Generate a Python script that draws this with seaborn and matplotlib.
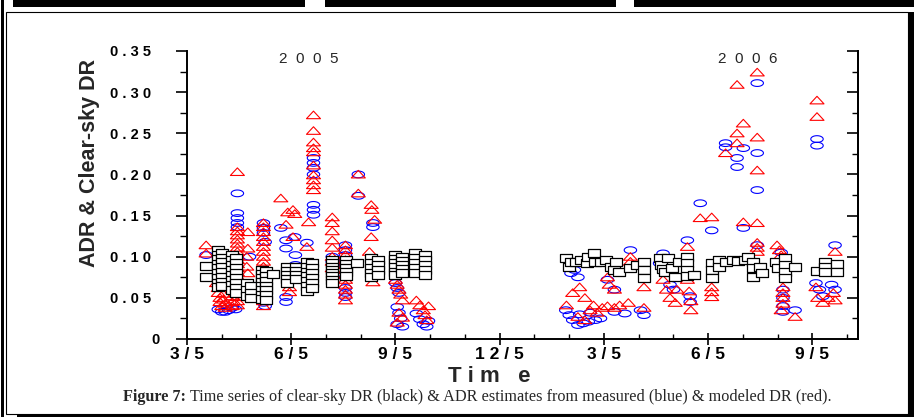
import numpy as np
import pandas as pd
import matplotlib
matplotlib.use("Agg")
import matplotlib.pyplot as plt
import seaborn as sns
from matplotlib.path import Path
from matplotlib.patches import Rectangle
from matplotlib.ticker import FixedLocator, FixedFormatter, MultipleLocator

# ---------------- data (x = months since 1 March 2005, y = DR) ----------------
black_points = [
    (0.55, 0.089), (0.55, 0.075),
    (0.90, 0.108), (0.90, 0.102), (0.90, 0.097), (0.90, 0.091), (0.90, 0.086), (0.90, 0.080), (0.90, 0.074), (0.90, 0.068), (0.90, 0.063),
    (1.02, 0.105), (1.02, 0.099), (1.02, 0.093), (1.02, 0.087), (1.02, 0.081), (1.02, 0.075), (1.02, 0.069), (1.02, 0.064),
    (1.30, 0.102), (1.30, 0.096), (1.30, 0.090), (1.30, 0.084), (1.30, 0.078), (1.30, 0.072), (1.30, 0.066), (1.30, 0.060),
    (1.42, 0.098), (1.42, 0.092), (1.42, 0.086), (1.42, 0.080), (1.42, 0.074), (1.42, 0.068), (1.42, 0.062), (1.42, 0.056),
    (1.72, 0.068), (1.72, 0.060), (1.72, 0.052), (1.85, 0.064), (1.85, 0.056), (1.85, 0.050),
    (2.15, 0.084), (2.15, 0.079), (2.15, 0.074), (2.15, 0.069), (2.15, 0.064), (2.15, 0.059), (2.15, 0.054), (2.15, 0.049),
    (2.27, 0.083), (2.27, 0.077), (2.27, 0.071), (2.27, 0.065), (2.27, 0.059), (2.27, 0.053), (2.27, 0.048),
    (2.47, 0.079),
    (2.88, 0.088), (2.88, 0.083), (2.88, 0.078), (2.88, 0.073), (2.88, 0.068),
    (3.15, 0.088), (3.15, 0.083), (3.15, 0.078), (3.15, 0.073),
    (3.45, 0.094), (3.45, 0.088), (3.45, 0.082), (3.45, 0.076), (3.45, 0.070), (3.45, 0.064), (3.45, 0.058),
    (3.60, 0.092), (3.60, 0.086), (3.60, 0.080), (3.60, 0.074), (3.60, 0.068), (3.60, 0.062),
    (4.18, 0.096), (4.18, 0.092), (4.18, 0.088), (4.18, 0.084), (4.18, 0.080), (4.18, 0.076), (4.18, 0.072), (4.18, 0.068),
    (4.58, 0.096), (4.58, 0.091), (4.58, 0.086), (4.58, 0.081), (4.58, 0.076), (4.88, 0.092),
    (5.30, 0.098), (5.30, 0.092), (5.30, 0.086), (5.30, 0.080), (5.30, 0.075),
    (5.50, 0.096), (5.50, 0.090), (5.50, 0.084), (5.50, 0.078),
    (6.00, 0.102), (6.00, 0.097), (6.00, 0.092), (6.00, 0.087), (6.00, 0.082), (6.00, 0.078),
    (6.20, 0.100), (6.20, 0.095), (6.20, 0.090), (6.20, 0.085), (6.20, 0.080),
    (6.55, 0.104), (6.55, 0.098), (6.55, 0.092), (6.55, 0.086), (6.55, 0.080),
    (6.85, 0.102), (6.85, 0.096), (6.85, 0.090), (6.85, 0.084), (6.85, 0.078),
    (10.92, 0.098), (11.00, 0.088), (11.05, 0.094), (11.20, 0.094), (11.35, 0.096), (11.50, 0.092),
    (11.55, 0.100), (11.70, 0.104), (11.75, 0.094), (11.90, 0.094),
    (12.05, 0.096), (12.20, 0.088), (12.28, 0.084), (12.35, 0.094), (12.42, 0.081),
    (12.76, 0.086), (12.95, 0.090), (13.15, 0.094), (13.15, 0.084), (13.15, 0.074),
    (13.60, 0.098), (13.65, 0.090), (13.70, 0.085), (13.75, 0.081), (13.85, 0.098), (13.95, 0.086),
    (14.05, 0.075), (14.15, 0.094),
    (14.40, 0.100), (14.40, 0.092), (14.40, 0.084), (14.40, 0.076), (14.60, 0.078),
    (15.10, 0.092), (15.10, 0.084), (15.10, 0.074), (15.30, 0.096), (15.30, 0.088),
    (15.50, 0.094), (15.70, 0.096), (15.85, 0.095), (16.05, 0.096), (16.15, 0.100),
    (16.30, 0.094), (16.30, 0.086), (16.30, 0.075), (16.50, 0.088), (16.55, 0.080),
    (16.95, 0.094), (17.00, 0.086), (17.20, 0.098), (17.20, 0.090), (17.20, 0.082), (17.20, 0.074), (17.50, 0.087),
    (18.13, 0.083), (18.35, 0.094), (18.35, 0.088), (18.35, 0.081), (18.70, 0.091), (18.70, 0.082),
]

blue_points = [
    (0.55, 0.102),
    (0.90, 0.036), (1.00, 0.033), (1.10, 0.033), (1.20, 0.035), (1.30, 0.038), (1.40, 0.036),
    (1.45, 0.177), (1.45, 0.153), (1.45, 0.147), (1.45, 0.141), (1.45, 0.136),
    (1.80, 0.100),
    (2.20, 0.141), (2.20, 0.135), (2.20, 0.129), (2.25, 0.118), (2.20, 0.044), (2.25, 0.040),
    (2.70, 0.135), (2.85, 0.120), (2.85, 0.110), (2.85, 0.051), (2.85, 0.045),
    (3.10, 0.124), (3.12, 0.102), (3.12, 0.090),
    (3.45, 0.117), (3.64, 0.220), (3.64, 0.214), (3.64, 0.208), (3.64, 0.200),
    (3.64, 0.163), (3.64, 0.157), (3.64, 0.151),
    (4.18, 0.100), (4.18, 0.094),
    (4.56, 0.114), (4.56, 0.108), (4.56, 0.102), (4.56, 0.096), (4.56, 0.090),
    (4.56, 0.075), (4.56, 0.062), (4.56, 0.056), (4.56, 0.051),
    (4.93, 0.200), (4.93, 0.174),
    (5.35, 0.141), (5.35, 0.136),
    (6.00, 0.068), (6.05, 0.062), (6.10, 0.056), (6.05, 0.039), (6.10, 0.032), (6.15, 0.025),
    (6.05, 0.018), (6.20, 0.015),
    (6.60, 0.031), (6.70, 0.024), (6.80, 0.018), (6.90, 0.015), (6.95, 0.022),
    (11.05, 0.080), (11.25, 0.075), (11.15, 0.084),
    (10.90, 0.035), (11.00, 0.029), (11.10, 0.023), (11.25, 0.017), (11.40, 0.019), (11.55, 0.021),
    (11.75, 0.023), (11.90, 0.025), (11.30, 0.030), (11.60, 0.032),
    (12.10, 0.072), (12.30, 0.060), (12.30, 0.033), (12.60, 0.031),
    (12.76, 0.108), (13.05, 0.035), (13.15, 0.029),
    (13.70, 0.104), (13.60, 0.092), (13.90, 0.066), (14.00, 0.060), (14.40, 0.120), (14.48, 0.045), (14.48, 0.052),
    (14.77, 0.165), (15.10, 0.132),
    (15.50, 0.238), (15.50, 0.233), (15.83, 0.220), (15.83, 0.209), (16.01, 0.232), (16.01, 0.135),
    (16.41, 0.311), (16.41, 0.226), (16.41, 0.181), (16.41, 0.114),
    (17.10, 0.105), (17.15, 0.060), (17.15, 0.050), (17.15, 0.040), (17.15, 0.033), (17.50, 0.035),
    (18.13, 0.243), (18.13, 0.235), (18.10, 0.068), (18.20, 0.060), (18.30, 0.052),
    (18.55, 0.066), (18.65, 0.060), (18.65, 0.114),
]

red_points = [
    (0.55, 0.114), (0.55, 0.104),
    (0.85, 0.075), (0.85, 0.068), (0.90, 0.062), (0.90, 0.056), (0.95, 0.050), (0.95, 0.045), (1.00, 0.040),
    (1.00, 0.065), (1.05, 0.055), (1.05, 0.048), (1.10, 0.043), (1.10, 0.038),
    (1.30, 0.060), (1.30, 0.052), (1.30, 0.045), (1.30, 0.040),
    (1.45, 0.203), (1.45, 0.136), (1.45, 0.131), (1.45, 0.126), (1.45, 0.121), (1.45, 0.116), (1.45, 0.111),
    (1.45, 0.106), (1.45, 0.101), (1.45, 0.096), (1.45, 0.091), (1.45, 0.086), (1.45, 0.081), (1.45, 0.076),
    (1.45, 0.071), (1.45, 0.066), (1.45, 0.061), (1.45, 0.056), (1.45, 0.051), (1.45, 0.046), (1.45, 0.041),
    (1.75, 0.130), (1.75, 0.110), (1.72, 0.100), (1.72, 0.088), (1.75, 0.080),
    (2.20, 0.141), (2.20, 0.136), (2.20, 0.130), (2.20, 0.124), (2.20, 0.118), (2.20, 0.112), (2.20, 0.106),
    (2.20, 0.100), (2.20, 0.094), (2.20, 0.088), (2.20, 0.082), (2.20, 0.076), (2.20, 0.070), (2.20, 0.064),
    (2.20, 0.058), (2.20, 0.052), (2.20, 0.046), (2.20, 0.040),
    (2.70, 0.171), (2.85, 0.139), (2.95, 0.063), (2.95, 0.057),
    (2.90, 0.154), (3.05, 0.157), (3.10, 0.152), (3.05, 0.124),
    (3.45, 0.112), (3.50, 0.142),
    (3.64, 0.272), (3.64, 0.253), (3.64, 0.239), (3.64, 0.232), (3.64, 0.227), (3.64, 0.211), (3.64, 0.199),
    (3.64, 0.193), (3.64, 0.187), (3.64, 0.181),
    (4.18, 0.148), (4.18, 0.141), (4.18, 0.131), (4.18, 0.120), (4.18, 0.111), (4.18, 0.100), (4.18, 0.094), (4.18, 0.086),
    (4.56, 0.114), (4.56, 0.108), (4.56, 0.102), (4.56, 0.096), (4.56, 0.090), (4.56, 0.084), (4.56, 0.078),
    (4.56, 0.072), (4.56, 0.066), (4.56, 0.060), (4.56, 0.054), (4.56, 0.047),
    (4.93, 0.200), (4.93, 0.177),
    (5.30, 0.163), (5.32, 0.157), (5.40, 0.145), (5.30, 0.124), (5.25, 0.106), (5.35, 0.069),
    (6.00, 0.072), (6.05, 0.066), (6.10, 0.060), (6.15, 0.054), (6.20, 0.047), (6.10, 0.032), (6.20, 0.026), (6.05, 0.020),
    (6.60, 0.047), (6.70, 0.041), (6.80, 0.035), (6.85, 0.029), (6.90, 0.023), (6.95, 0.040),
    (10.92, 0.041), (11.10, 0.056), (11.30, 0.063), (11.25, 0.027), (11.45, 0.050), (11.45, 0.023),
    (11.70, 0.041), (11.80, 0.032), (11.95, 0.038), (11.60, 0.035), (12.10, 0.040),
    (12.10, 0.075), (12.15, 0.066), (12.30, 0.060), (12.30, 0.038), (12.45, 0.041), (12.70, 0.044),
    (12.76, 0.100), (12.76, 0.094), (13.15, 0.063), (13.15, 0.038),
    (13.70, 0.072), (13.80, 0.060), (13.90, 0.050), (14.05, 0.044), (14.10, 0.060),
    (14.40, 0.112), (14.40, 0.072), (14.45, 0.058), (14.50, 0.046), (14.50, 0.035),
    (14.77, 0.147), (15.10, 0.148), (15.10, 0.063), (15.10, 0.057), (15.10, 0.051),
    (15.50, 0.226), (15.83, 0.309), (15.83, 0.250), (15.83, 0.238), (16.01, 0.262), (16.01, 0.142),
    (16.41, 0.324), (16.41, 0.245), (16.41, 0.205), (16.41, 0.141), (16.41, 0.117), (16.41, 0.111), (16.41, 0.106),
    (16.98, 0.114), (17.05, 0.108), (17.10, 0.102), (17.15, 0.063), (17.15, 0.056), (17.15, 0.050),
    (17.15, 0.043), (17.10, 0.035), (17.50, 0.027),
    (18.13, 0.290), (18.13, 0.270), (18.10, 0.063), (18.15, 0.050), (18.30, 0.044), (18.45, 0.050),
    (18.60, 0.056), (18.65, 0.047), (18.65, 0.106),
]

x_ticks = [0, 3, 6, 9, 12, 15, 18]
x_tick_labels = ["3 / 5", "6 / 5", "9 / 5", "1 2 / 5", "3 / 5", "6 / 5", "9 / 5"]
y_ticks = [0.0, 0.05, 0.10, 0.15, 0.20, 0.25, 0.30, 0.35]
y_tick_labels = ["0", "0 . 0 5  ", "0 . 1 0  ", "0 . 1 5  ", "0 . 2 0  ", "0 . 2 5  ", "0 . 3 0  ", "0 . 3 5  "]
year_labels = ["2  0  0  5", "2  0  0  6"]
year_positions = [3.49, 16.15]

# ---------------- style ----------------
sns.set_style("ticks", {"axes.edgecolor": "black", "xtick.color": "black", "ytick.color": "black"})
plt.rcParams["font.family"] = ["Liberation Sans", "DejaVu Sans"]

W, H = 914, 417
fig = plt.figure(figsize=(W / 100, H / 100), dpi=100)
fig.patch.set_facecolor("white")

def fx(px):
    return px / W

def fy(py):
    return 1 - py / H

ax = fig.add_axes([fx(187), fy(339), (858 - 187) / W, (339 - 51) / H])
ax.set_facecolor("white")

# marker shapes
t = np.linspace(0, 2 * np.pi, 41)
ellipse_marker = Path(np.column_stack([np.cos(t), 0.54 * np.sin(t)]), closed=True)
square_marker = Path([(-1, -0.66), (1, -0.66), (1, 0.66), (-1, 0.66), (-1, -0.66)], closed=True)
tri_marker = Path([(-1, -0.5), (1, -0.5), (0, 0.58), (-1, -0.5)], closed=True)

blue_df = pd.DataFrame(blue_points, columns=["month", "dr"])
red_df = pd.DataFrame(red_points, columns=["month", "dr"])
black_df = pd.DataFrame(black_points, columns=["month", "dr"])

sns.scatterplot(data=blue_df, x="month", y="dr", ax=ax, marker=ellipse_marker, s=80,
                color="#0000ff", facecolor="none", edgecolor="#0000ff", linewidth=0.8,
                zorder=3, legend=False, clip_on=False)
sns.scatterplot(data=red_df, x="month", y="dr", ax=ax, marker=tri_marker, s=102,
                color="#ff0000", facecolor="none", edgecolor="#ff0000", linewidth=0.8,
                zorder=4, legend=False, clip_on=False)
sns.scatterplot(data=black_df, x="month", y="dr", ax=ax, marker=square_marker, s=80,
                color="white", facecolor="white", edgecolor="black", linewidth=0.9,
                zorder=5, legend=False, clip_on=False)

ax.set_xlim(0, 19.31)
ax.set_ylim(0, 0.35)

ax.xaxis.set_major_locator(FixedLocator(x_ticks))
ax.xaxis.set_major_formatter(FixedFormatter(x_tick_labels))
ax.xaxis.set_minor_locator(MultipleLocator(1))
ax.yaxis.set_major_locator(FixedLocator(y_ticks))
ax.yaxis.set_major_formatter(FixedFormatter(y_tick_labels))
ax.yaxis.set_minor_locator(MultipleLocator(0.025))

for s in ["left", "bottom", "right"]:
    ax.spines[s].set_linewidth(1.4)
    ax.spines[s].set_color("black")
ax.spines["top"].set_visible(False)

ax.tick_params(axis="y", which="major", direction="out", length=8, width=1.2,
               labelsize=10.5, pad=12)
ax.tick_params(axis="y", which="minor", direction="out", length=5, width=1.0)
ax.tick_params(axis="x", which="major", direction="inout", length=8, width=1.2,
               labelsize=12.5, pad=2)
ax.tick_params(axis="x", which="minor", direction="in", length=3.5, width=1.0)
for lbl in ax.get_xticklabels() + ax.get_yticklabels():
    lbl.set_fontweight("bold")

ax2 = ax.twinx()
ax2.set_ylim(0, 0.35)
ax2.yaxis.set_major_locator(FixedLocator(y_ticks))
ax2.yaxis.set_minor_locator(MultipleLocator(0.025))
ax2.tick_params(axis="y", which="major", direction="in", length=8, width=1.2, labelright=False)
ax2.tick_params(axis="y", which="minor", direction="in", length=4.5, width=1.0, labelright=False)
for s in ["top", "left", "bottom"]:
    ax2.spines[s].set_visible(False)
ax2.spines["right"].set_linewidth(1.4)

ax.set_xlabel("")
ax.set_ylabel("")
fig.text(fx(90), fy(163), "ADR & Clear-sky DR", rotation=90, ha="center", va="center",
         fontsize=15.5, fontweight="bold")
fig.text(fx(489), fy(376), "T i m   e", ha="center", va="center", fontsize=16, fontweight="bold")

for lab, xm in zip(year_labels, year_positions):
    ax.text(xm, 0.340, lab, ha="center", va="center", fontsize=11)

# caption
cap_font = ["Liberation Serif", "DejaVu Serif"]
cap1 = fig.text(fx(123), fy(401), "Figure 7:", ha="left", va="baseline",
                fontsize=11.7, fontweight="bold", family=cap_font)
fig.canvas.draw()
bb = cap1.get_window_extent()
fig.text(bb.x1 / W + 3.5 / W, fy(401),
         "Time series of clear-sky DR (black) & ADR estimates from measured (blue) & modeled DR (red).",
         ha="left", va="baseline", fontsize=11.7, family=cap_font)

# page frame decorations
def rect(x0, y0, w, h):
    fig.add_artist(Rectangle((fx(x0), fy(y0 + h)), w / W, h / H, transform=fig.transFigure,
                             facecolor="black", edgecolor="none", zorder=10))

rect(0.5, 0, 3.5, 417)
rect(13, 0, 292, 7)
rect(325, 0, 291, 7)
rect(634, 0, 280, 7)
rect(908, 12, 6, 405)
rect(17, 414, 897, 3)
fig.add_artist(Rectangle((fx(5.5), fy(413.5)), (908 - 5.5) / W, (413.5 - 11.5) / H,
                         transform=fig.transFigure, facecolor="none", edgecolor="black",
                         linewidth=0.8, zorder=10))

fig.savefig("out.png", dpi=100, facecolor="white")
